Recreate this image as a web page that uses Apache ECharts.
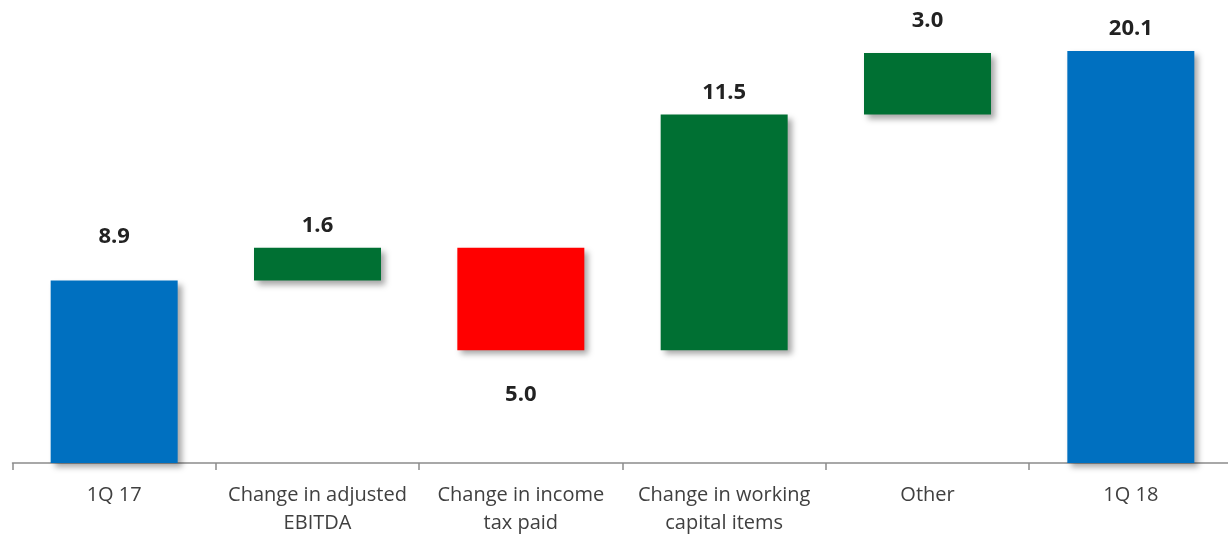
<!DOCTYPE html>
<html><head><meta charset="utf-8">
<script src="https://cdn.jsdelivr.net/npm/echarts@6/dist/echarts.min.js"></script>
<style>html,body{margin:0;padding:0;background:#fff}#c{width:1228px;height:536px}</style>
</head><body><div id="c"></div>
<script>
var categories = ['1Q 17', 'Change in adjusted\nEBITDA', 'Change in income\ntax paid', 'Change in working\ncapital items', 'Other', '1Q 18'];
var deltas = [8.9, 1.6, -5.0, 11.5, 3.0, 20.1];
var kinds = ['total', 'delta', 'delta', 'delta', 'delta', 'total'];

var colors = {total: '#0070C0', up: '#007033', down: '#FF0000'};
var labelDist = [33, 11, 33, 11, 21, 11];

var base = [], vis = [], running = 0;
for (var i = 0; i < deltas.length; i++) {
  if (kinds[i] === 'total') {
    base.push(0); vis.push(deltas[i]); running = deltas[i];
  } else {
    var next = running + deltas[i];
    base.push(Math.min(running, next));
    vis.push(Math.abs(deltas[i]));
    running = next;
  }
}
var visData = vis.map(function (v, i) {
  var neg = deltas[i] < 0;
  return {
    value: v,
    itemStyle: {color: kinds[i] === 'total' ? colors.total : (neg ? colors.down : colors.up)},
    label: {position: neg ? 'bottom' : 'top', distance: labelDist[i]}
  };
});

var chart = echarts.init(document.getElementById('c'), null, {renderer: 'canvas'});
chart.setOption({
  animation: false,
  grid: {left: 12.5, right: -4.5, top: 51, bottom: 73, outerBoundsMode: 'none', containLabel: false},
  xAxis: {
    type: 'category', data: categories,
    axisLine: {lineStyle: {color: '#8c8c8c', width: 1.5}},
    axisTick: {show: true, length: 7, lineStyle: {color: '#8c8c8c', width: 1.5}},
    axisLabel: {color: '#404040', fontFamily: 'Open Sans', fontSize: 20, margin: 18, lineHeight: 28, interval: 0}
  },
  yAxis: {type: 'value', min: 0, max: 20.1, show: false, splitLine: {show: false}},
  series: [
    {type: 'bar', stack: 'w', data: base, barWidth: 127, itemStyle: {color: 'transparent'}, silent: true},
    {type: 'bar', stack: 'w', data: visData, barWidth: 127,
     itemStyle: {shadowBlur: 6, shadowOffsetX: 4, shadowOffsetY: 4, shadowColor: 'rgba(0,0,0,0.35)'},
     label: {show: true, color: '#222222', fontFamily: 'Open Sans', fontWeight: 'bold', fontSize: 22,
       formatter: function (p) { return Math.abs(deltas[p.dataIndex]).toFixed(1); }}}
  ]
});
</script></body></html>
